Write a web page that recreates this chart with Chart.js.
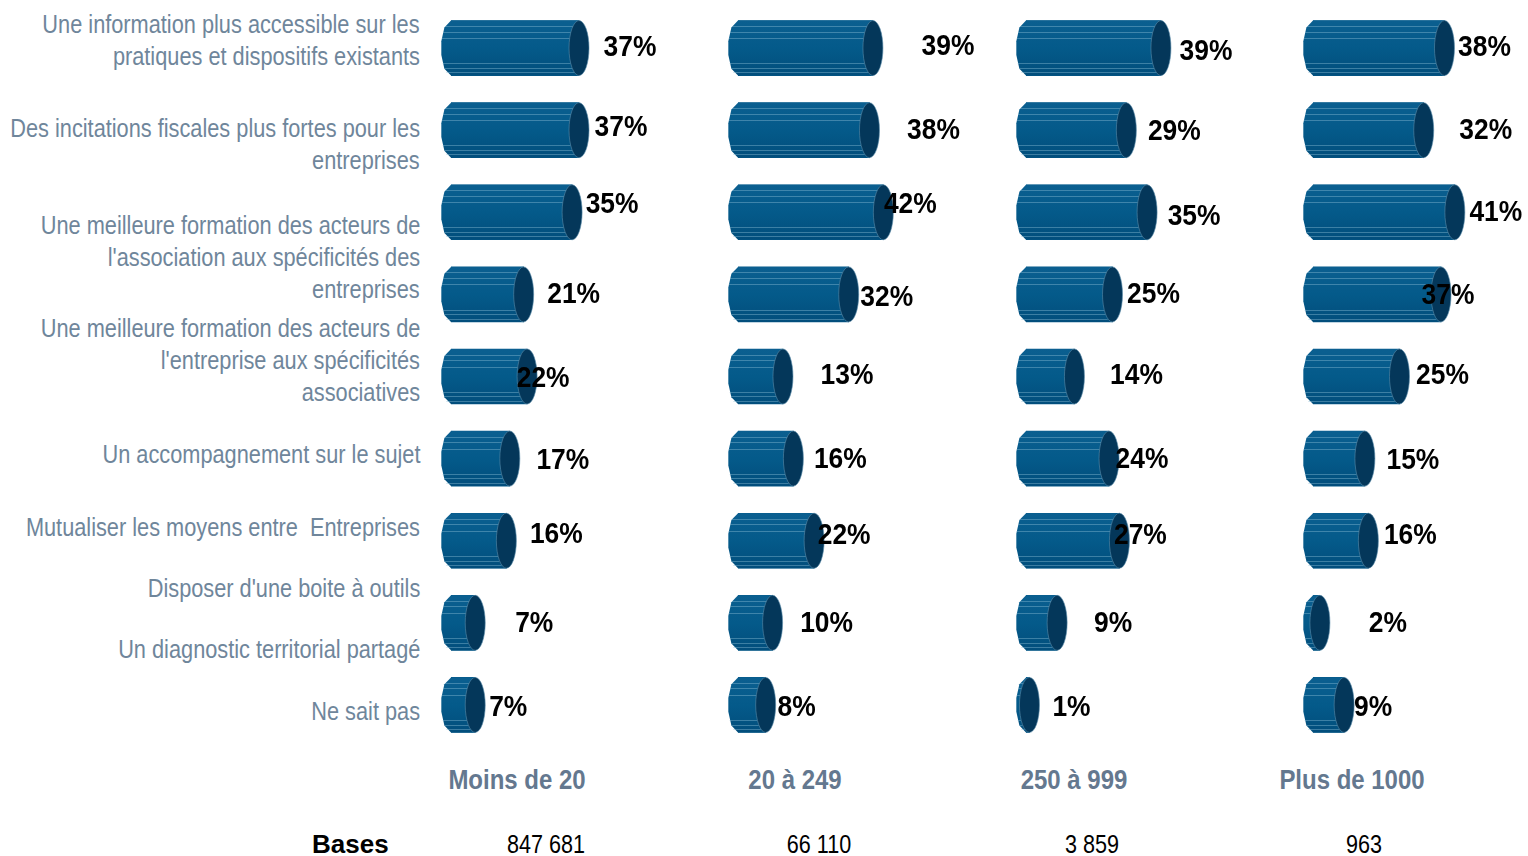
<!DOCTYPE html>
<html lang="fr">
<head>
<meta charset="utf-8">
<title>Leviers par taille d'entreprise</title>
<script src="https://cdn.jsdelivr.net/npm/chart.js@4"></script>
<style>
  html, body { margin: 0; background: #fff; }
  #page { position: relative; width: 1528px; height: 856px; overflow: hidden; font-family: "Liberation Sans", sans-serif; }
  canvas { position: absolute; top: 0; }
  .cat { position: absolute; right: 1108px; text-align: right; color: #6f869b; font-size: 25px; line-height: 32px; white-space: pre; transform: scaleX(0.87); transform-origin: right center; }
  .head, .base { position: absolute; white-space: nowrap; }
  .head { top: 764px; color: #64788f; font-size: 28px; font-weight: bold; line-height: 32px; transform: translateX(-50%) scaleX(0.856); }
  .base { top: 828px; color: #000; font-size: 26px; line-height: 32px; transform: translateX(-50%) scaleX(0.83); }
  #basesTitle { position: absolute; left: 312px; top: 828px; font: bold 26px/32px "Liberation Sans", sans-serif; }
</style>
</head>
<body>
<div id="page"></div>
<script>
const categories = [
  ["Une information plus accessible sur les", "pratiques et dispositifs existants"],
  ["Des incitations fiscales plus fortes pour les", "entreprises"],
  ["Une meilleure formation des acteurs de", "l'association aux spécificités des", "entreprises"],
  ["Une meilleure formation des acteurs de", "l'entreprise aux spécificités", "associatives"],
  ["Un accompagnement sur le sujet"],
  ["Mutualiser les moyens entre  Entreprises"],
  ["Disposer d'une boite à outils"],
  ["Un diagnostic territorial partagé"],
  ["Ne sait pas"]
];
const panels = ["Moins de 20", "20 à 249", "250 à 999", "Plus de 1000"];
const bases = ["847 681", "66 110", "3 859", "963"];

const moinsDe20 = [37, 37, 35, 21, 22, 17, 16, 7, 7];
const de20a249 = [39, 38, 42, 32, 13, 16, 22, 10, 8];
const de250a999 = [39, 29, 35, 25, 14, 24, 27, 9, 1];
const plusDe1000 = [38, 32, 41, 37, 25, 15, 16, 2, 9];
const series = [moinsDe20, de20a249, de250a999, plusDe1000];

// placement du texte et des panneaux, separe des valeurs
const catTop = [8, 112, 209, 312, 438, 511, 572, 633, 695];
const panelLeft = [441, 728, 1016, 1303];
const panelWidth = [287, 287, 287, 225];
const headCenter = [517, 795, 1074, 1352];
const baseCenter = [546, 819, 1092, 1364];
const labelDx = [
  [51, 42, 40, 50, 16, 53, 50, 59, 33],
  [75, 64, 27, 38, 64, 47, 30, 54, 31],
  [45, 48, 47, 41, 62, 33, 21, 56, 42],
  [40, 62, 41, 7, 43, 48, 42, 68, 29]
];
const labelDy = [
  [0, -2, -8, 0, 2, 2, -6, 1, 3],
  [-1, 1, -8, 3, -1, 1, -5, 1, 3],
  [4, 2, 4, 0, -1, 1, -5, 1, 3],
  [0, 1, 0, 1, -1, 2, -5, 1, 3]
];

const page = document.getElementById('page');

function addText(cls, text, css) {
  const el = document.createElement('div');
  el.className = cls;
  el.textContent = text;
  Object.assign(el.style, css);
  page.appendChild(el);
  return el;
}

categories.forEach((lines, i) => {
  lines.forEach((line, j) => {
    addText('cat', line, { top: (catTop[i] + j * 32) + 'px' });
  });
});
panels.forEach((p, i) => {
  addText('head', p, { left: headCenter[i] + 'px' });
  addText('base', bases[i], { left: baseCenter[i] + 'px' });
});
addText('', 'Bases', {}).id = 'basesTitle';

// Plugin : dessine chaque barre en cylindre + etiquette de valeur
const facets = [-0.8, -0.6, -0.36, 0.55, 0.72, 0.88];
const bulge = [-0.75, -0.25, 0.25, 0.75];
const cylinder = {
  id: 'cylinder',
  afterDatasetsDraw(chart, args, opts) {
    const ctx = chart.ctx;
    const rx = 10;
    chart.getDatasetMeta(0).data.forEach((bar, i) => {
      const ry = bar.height / 2;
      const top = bar.y - ry;
      ctx.save();
      const grad = ctx.createLinearGradient(0, top, 0, top + bar.height);
      grad.addColorStop(0, '#0b5f90');
      grad.addColorStop(0.5, '#045a8a');
      grad.addColorStop(1, '#024e7c');
      ctx.fillStyle = grad;
      ctx.beginPath();
      ctx.moveTo(bar.x, top);
      ctx.lineTo(bar.base, top);
      bulge.forEach(t => {
        ctx.lineTo(bar.base - rx * Math.sqrt(1 - t * t), bar.y + t * ry);
      });
      ctx.lineTo(bar.base, top + bar.height);
      ctx.lineTo(bar.x, top + bar.height);
      ctx.closePath();
      ctx.fill();

      ctx.strokeStyle = 'rgba(140,190,215,0.42)';
      ctx.lineWidth = 1;
      facets.forEach(t => {
        const shift = rx * Math.sqrt(1 - t * t);
        const y = Math.round(bar.y + t * ry) + 0.5;
        ctx.beginPath();
        ctx.moveTo(bar.base - shift, y);
        ctx.lineTo(bar.x - shift, y);
        ctx.stroke();
      });

      ctx.fillStyle = '#04375a';
      ctx.strokeStyle = 'rgba(90,140,170,0.6)';
      ctx.beginPath();
      ctx.ellipse(bar.x, bar.y, rx, ry, 0, 0, Math.PI * 2);
      ctx.fill();
      ctx.stroke();

      ctx.translate(bar.x + opts.dx[i], bar.y + opts.dy[i]);
      ctx.scale(0.88, 1);
      ctx.fillStyle = '#000';
      ctx.font = 'bold 30px "Liberation Sans", sans-serif';
      ctx.textAlign = 'center';
      ctx.textBaseline = 'middle';
      ctx.fillText(opts.values[i] + '%', 0, 0);
      ctx.restore();
    });
  }
};

series.forEach((values, p) => {
  const canvas = document.createElement('canvas');
  canvas.width = panelWidth[p];
  canvas.height = 752;
  canvas.style.left = panelLeft[p] + 'px';
  page.appendChild(canvas);

  new Chart(canvas.getContext('2d'), {
    type: 'bar',
    data: {
      labels: categories.map(c => c.join(' ')),
      datasets: [{
        label: panels[p],
        data: values,
        backgroundColor: '#045a8a',
        borderWidth: 0,
        barThickness: 55
      }]
    },
    options: {
      indexAxis: 'y',
      responsive: false,
      animation: false,
      layout: { padding: { left: 10, right: panelWidth[p] - 10 - 207.6, top: 7, bottom: 6 } },
      plugins: {
        legend: { display: false },
        tooltip: { enabled: false },
        cylinder: { values: values, dx: labelDx[p], dy: labelDy[p] }
      },
      scales: {
        x: { display: false, min: 0, max: 60 },
        y: { display: false }
      }
    },
    plugins: [cylinder]
  });
});
</script>
</body>
</html>
